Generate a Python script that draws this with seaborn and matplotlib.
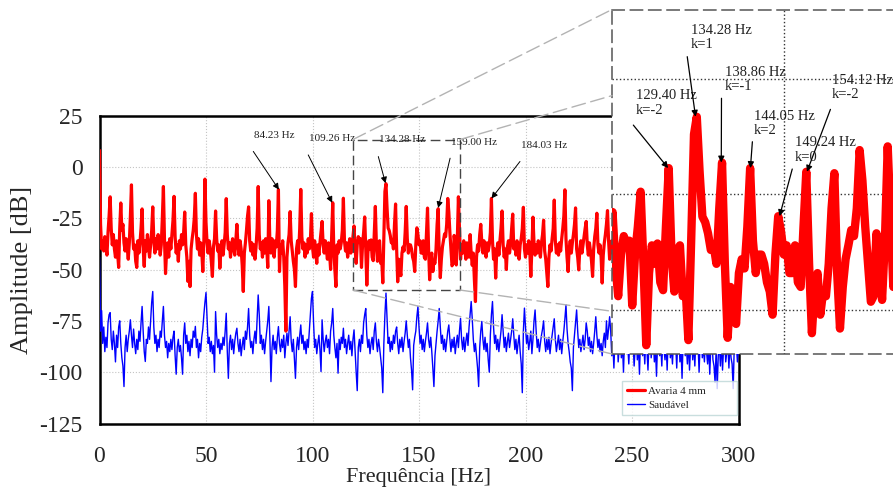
import numpy as np
import pandas as pd
import matplotlib
matplotlib.use("Agg")
import matplotlib.pyplot as plt
import seaborn as sns
from matplotlib.patches import Rectangle, ConnectionPatch

# ---------------- data (0.5 Hz grid) ----------------
freq_step = 0.5
freq_max = 300.0

red_db = [
    8, -28, -40, -36, -41, -34, -38, -43, -32, -24,
    -14.6, -30, -38, -33, -40, -44, -36, -42, -49, -30,
    -17.6, -31, -28, -37, -41, -35, -39, -45, -37, -24,
    -8.8, -32, -40, -38, -46, -49, -36, -42, -37, -30,
    -20.5, -40, -48.5, -36, -41, -33, -39, -44, -38, -31,
    -19.5, -36, -42, -35, -40, -33, -37, -43, -38, -25,
    -9.6, -35, -52, -41, -37, -44, -35, -40, -33, -26,
    -14.4, -34, -42, -38, -46, -36, -40, -33, -38, -32,
    -22, -38, -44, -55.8, -46, -58.3, -40, -35, -31, -25,
    -12.9, -33, -40, -35, -43, -37, -41, -51, -36, -6,
    -27, -37, -42, -36, -40, -46, -53.4, -39, -35, -21.5,
    -35, -41, -38, -49.4, -40, -36, -43, -38, -32, -15.5,
    -33, -40, -37, -44, -38, -35, -40, -43, -36, -28,
    -38, -43, -36, -40, -48, -60.7, -42, -37, -31, -24,
    -19.5, -36, -41, -37, -43, -38, -45, -39, -30, -9.6,
    -33, -40, -37, -44, -36, -42, -35, -39, -49, -16.5,
    -37, -42, -35, -40, -44, -36, -39, -31, -11.1, -51,
    -38, -42, -36, -44, -58, -80, -44, -37, -33, -21.8,
    -36, -41, -46, -50, -58.3, -40, -36, -42, -30, -11,
    -34, -40, -37, -44, -38, -42, -35, -40, -36, -22.8,
    -39, -44, -36, -41, -47, -38, -43, -37, -32, -26.6,
    -38, -42, -36, -40, -45, -37, -42, -50, -33, -17.5,
    -40, -50, -58.3, -38, -42, -36, -40, -37, -31, -15.3,
    -36, -41, -37, -44, -39, -35, -42, -38, -34, -28.8,
    -40, -47, -38, -34, -36, -35, -49, -38, -32, -24.4,
    -40, -57.6, -42, -36, -40, -35.6, -44, -45.7, -32, -19.3,
    -38, -46, -37, -36, -47, -45, -56.5, -35, -12, -8.2,
    -20, -29.8, -31, -33.4, -37, -36, -40, -28, -18.1, -40,
    -56, -45, -50, -53, -42, -39, -41, -32, -19.3, -35,
    -42, -38, -38, -40, -44, -46, -51, -38, -29.7, -33,
    -38, -36, -42, -42, -36, -44, -45, -32, -20.1, -40,
    -55, -45, -42, -51, -46, -47, -40, -28, -20.4, -42,
    -54, -45, -39, -36, -32.7, -34, -28, -15.4, -22, -32,
    -40, -48.2, -47, -33.4, -38, -47.8, -35, -14.6, -30, -45,
    -38, -42, -36, -40, -45, -37, -41, -44, -33, -42,
    -48, -42, -55, -65.6, -44, -38, -41, -33, -28, -37,
    -42, -36, -40, -44, -37, -41, -38, -32, -15.4, -36,
    -45, -40, -54.2, -41, -37, -43, -36, -30, -21.5, -38,
    -44, -40, -50, -39, -36, -42, -38, -30, -23, -40,
    -37, -43, -36, -41, -45, -38, -35, -30, -19.7, -40,
    -44, -38, -42, -36, -41, -53.4, -40, -24.5, -37, -43,
    -38, -42, -36, -40, -44, -37, -33, -26, -41, -45,
    -52, -58.3, -44, -38, -41, -35, -30, -16.2, -36, -42,
    -38, -43, -37, -41, -35, -30, -24, -11.2, -35, -44,
    -51, -40, -36, -42, -37, -33, -28, -20, -40, -44,
    -50.2, -40, -36, -42, -38, -34, -30, -26.6, -38, -43,
    -37, -41, -46, -53.4, -40, -34, -30, -22.6, -38, -42,
    -38, -44, -56.6, -43, -37, -33, -28, -21.3, -36, -45,
    -40, -36, -42, -38, -44, -37, -32, -18, -38, -43,
    -39, -45, -36, -41, -37, -33, -24, -40, -47, -38,
    -42, -36, -40, -30, -12, -38, -45, -41, -36, -43,
    -37, -42, -48, -35, -30, -20, -39, -44, -38, -41,
    -36, -43, -38, -30, -15, -37, -46, -40, -36, -42,
    -38, -44, -37, -32, -41, -25, -40, -52, -39, -35,
    -42, -37, -33, -24, -10, -36, -45, -40, -37, -43,
    -38, -44, -36, -32, -22, -40, -49, -38, -42, -36,
    -41, -37, -34, -28, -17, -39, -46, -40, -36, -43,
    -38, -42, -36, -33, -26, -41, -50, -39, -35, -42,
    -37, -44, -35, -28, -14, -38, -47, -41, -36, -42,
    -38, -43, -36, -30, -22, -40, -45, -38, -41, -37,
    -40,
]

blue_db = [
    -44, -80, -70, -86, -78, -90, -83, -88, -76, -72,
    -71, -84, -89, -80, -86, -95, -82, -88, -78, -75,
    -86, -93, -97, -107, -88, -82, -90, -84, -80, -74.5,
    -82, -88, -79, -86, -91, -84, -89, -80, -85, -76,
    -68, -80, -90, -94.8, -84, -86, -78, -84, -75, -66,
    -60.7, -78, -86, -82, -90, -84, -88, -80, -83, -75,
    -68, -82, -88, -85, -93, -86, -90, -84, -89, -83,
    -80, -92, -101, -88, -84, -90, -87, -93, -101, -82,
    -76, -86, -82, -90, -85, -92, -84, -88, -80, -83,
    -77.7, -88, -84, -93, -86, -90, -83, -79, -72, -66,
    -61.2, -74, -86, -83, -90, -85, -91, -87, -100, -70.5,
    -82, -88, -84, -91, -86, -89, -83, -87, -80, -71.3,
    -90, -103, -86, -82, -89, -84, -91, -85, -81, -78.6,
    -86, -90, -84, -92, -87, -83, -89, -80, -84, -78,
    -69, -82, -88, -85, -91, -84, -80, -86, -74, -62.4,
    -72, -86, -82, -89, -84, -91, -85, -80, -75, -68,
    -84, -104.6, -88, -82, -89, -85, -91, -83, -77.8, -86,
    -90, -84, -88, -82, -93, -86, -81, -87, -80, -73,
    -85, -90, -84, -94, -103, -88, -83, -89, -82, -77,
    -86, -82, -89, -85, -91, -84, -88, -80, -72, -64,
    -60.7, -76, -88, -84, -91, -86, -82, -89, -99.7, -74.5,
    -84, -90, -85, -82, -88, -84, -91, -80, -76, -69,
    -82, -88, -93, -86, -100.5, -84, -89, -83, -86, -78.6,
    -88, -84, -91, -86, -82, -89, -85, -92, -84, -79.4,
    -90, -100, -109, -88, -84, -90, -82, -86, -76, -72,
    -69, -82, -88, -84, -91, -86, -83, -89, -80, -76,
    -85, -90, -84, -88, -93, -98, -110, -86, -72, -61.5,
    -74, -86, -83, -90, -85, -89, -82, -86, -80, -78,
    -86, -91, -84, -88, -83, -90, -85, -81, -75, -82,
    -88, -84, -93, -99, -108.6, -87, -83, -80, -73, -68,
    -78, -86, -82, -89, -84, -90, -85, -81, -76, -84,
    -88, -83, -90, -98, -107, -92, -86, -80, -75, -69,
    -78, -86, -82, -89, -84, -90, -85, -80, -77, -84,
    -90, -84, -88, -83, -91, -86, -82, -88, -80, -73.8,
    -84, -89, -83, -90, -85, -81, -87, -78, -72, -65.6,
    -74, -84, -90, -86, -92, -98, -107, -88, -80, -75.3,
    -84, -89, -83, -90, -86, -94, -100, -82, -72, -65.6,
    -78, -86, -82, -89, -84, -90, -85, -80, -72, -80,
    -88, -83, -90, -85, -81, -88, -84, -80, -74, -82,
    -89, -84, -91, -86, -82, -90, -96, -110, -80, -68.8,
    -78, -86, -82, -89, -85, -80, -91, -84, -75, -69.7,
    -80, -88, -84, -90, -86, -82, -79, -75, -85, -90,
    -84, -89, -83, -91, -86, -82, -78, -74, -84, -90,
    -86, -82, -89, -84, -91, -85, -80, -74, -67.2, -79,
    -86, -90, -95, -98, -109, -88, -82, -76, -69.7, -80,
    -88, -84, -90, -86, -82, -89, -84, -76, -80, -87,
    -83, -90, -85, -91, -86, -80, -73, -82, -88, -84,
    -90, -86, -92, -85, -81, -88, -75, -84, -79, -73,
    -80, -92, -86, -98, -84, -90, -78, -95, -88, -82,
    -93, -86, -100, -84, -79, -91, -87, -96, -83, -76,
    -90, -85, -97, -88, -82, -94, -86, -101, -84, -78,
    -92, -86, -96, -83, -89, -99, -85, -80, -93, -87,
    -84, -95, -88, -102, -86, -80, -92, -87, -97, -82,
    -89, -94, -85, -99, -83, -78, -93, -88, -96, -84,
    -90, -86, -98, -84, -80, -95, -88, -103, -85, -79,
    -92, -87, -96, -84, -99, -88, -82, -94, -86, -97,
    -83, -90, -86, -100, -85, -79, -93, -88, -95, -84,
    -90, -96, -86, -101, -88, -82, -94, -97, -105, -89,
    -108, -92, -86, -97, -84, -99, -88, -83, -95, -90,
    -86, -98, -85, -93, -96, -108, -88, -91, -87, -95,
    -88,
]

series_names = ["Avaria 4 mm", "Saudável"]
x_ticks = [0, 50, 100, 150, 200, 250, 300]
y_ticks = [25, 0, -25, -50, -75, -100, -125]

main_labels = ["84.23 Hz", "109.26 Hz", "134.28 Hz", "159.00 Hz", "184.03 Hz"]
main_peak_f = [84.23, 109.26, 134.28, 159.00, 184.03]
main_peak_db = [-11.1, -17.5, -8.0, -20.0, -15.4]

inset_labels = ["129.40 Hz\nk=-2", "134.28 Hz\nk=1", "138.86 Hz\nk=-1",
                "144.05 Hz\nk=2", "149.24 Hz\nk=0", "154.12 Hz\nk=-2"]
inset_peak_f = [129.40, 134.28, 138.86, 144.05, 149.24, 154.12]
inset_peak_db = [-19.3, -8.2, -18.1, -19.3, -29.7, -20.1]

freq = np.arange(0, freq_max + freq_step / 2, freq_step)
df = pd.DataFrame({"freq": freq, "red": red_db, "blue": blue_db})

# ---------------- style ----------------
sns.set_style("white")
plt.rcParams["font.family"] = ["Liberation Serif", "DejaVu Serif"]
plt.rcParams["axes.unicode_minus"] = False

fig = plt.figure(figsize=(8.93, 4.99), dpi=100)
ax = fig.add_axes([99.5 / 893, 75.5 / 499, 639 / 893, 308 / 499])

sns.lineplot(data=df, x="freq", y="blue", ax=ax, color="#0000ff", lw=1.0,
             label=series_names[1], estimator=None, sort=False, zorder=3)
sns.lineplot(data=df, x="freq", y="red", ax=ax, color="#ff0000", lw=2.3,
             label=series_names[0], estimator=None, sort=False, zorder=4)

ax.set_xlim(0, 300)
ax.set_ylim(-125, 25)
ax.set_xticks(x_ticks)
ax.set_yticks(y_ticks)
ax.tick_params(axis="both", length=0, labelsize=17)
ax.tick_params(axis="y", pad=12)
ax.tick_params(axis="x", pad=16)
ax.grid(True, ls=":", color="#c4c4c4", lw=0.8)
ax.set_axisbelow(True)
for s in ax.spines.values():
    s.set_color("black")
    s.set_linewidth(1.8)
ax.set_xlabel("Frequência [Hz]", fontsize=16)
ax.set_ylabel("Amplitude [dB]", fontsize=19)
ax.xaxis.set_label_coords(0.5, -0.146)
ax.yaxis.set_label_coords(-0.104, 0.5)

h, l = ax.get_legend_handles_labels()
order = [l.index(series_names[0]), l.index(series_names[1])]
leg = ax.legend([h[i] for i in order], [l[i] for i in order], loc="lower left",
                bbox_to_anchor=(0.8177, 0.0292, 0.18, 0.117), mode="expand",
                borderaxespad=0, fontsize=8,
                frameon=True, fancybox=False, edgecolor="#bcd6d6",
                handlelength=1.6, handletextpad=0.3, labelspacing=0.35,
                borderpad=0.45)
leg.get_frame().set_linewidth(1.0)
leg.set_zorder(10)

# zoom rectangle in main axes
rect_x0, rect_x1, rect_y0, rect_y1 = 119.0, 169.2, -60.0, 13.3
ax.add_patch(Rectangle((rect_x0, rect_y0), rect_x1 - rect_x0, rect_y1 - rect_y0,
                       fill=False, ec="#454545", lw=1.0, ls=(0, (7, 3.5)), zorder=6))

# main annotations
main_text_xy = [(81.9, 15.1), (109.4, 13.6), (142.2, 13.2), (175.8, 11.7), (208.7, 10.2)]
main_tail_xy = [(72.2, 7.5), (98.0, 5.8), (130.9, 5.0), (164.6, 4.2), (197.4, 2.6)]
for lab, pf, pdb, txy, tail in zip(main_labels, main_peak_f, main_peak_db, main_text_xy, main_tail_xy):
    ax.text(txy[0], txy[1], lab, fontsize=8, ha="center", va="center", color="#222222", zorder=7)
    ax.annotate("", xy=(pf, pdb), xytext=tail,
                arrowprops=dict(arrowstyle="-|>", color="black", lw=0.7,
                                mutation_scale=9, shrinkA=0, shrinkB=0), zorder=7)

# ---------------- inset ----------------
axins = fig.add_axes([612 / 893, 145 / 499, 283 / 893, 344.5 / 499])
axins.set_facecolor("white")
sns.lineplot(data=df, x="freq", y="blue", ax=axins, color="#0000ff", lw=1.0,
             legend=False, estimator=None, sort=False)
sns.lineplot(data=df, x="freq", y="red", ax=axins, color="#ff0000", lw=6,
             legend=False, estimator=None, sort=False)
axins.set_xlim(119.4, 169.8)
axins.set_ylim(-59.5, 15)
axins.set_xticks([150])
axins.set_yticks([0, -25, -50])
axins.tick_params(axis="both", direction="in", length=3, labelbottom=False,
                  labelleft=False, color="#555555")
axins.set_xlabel("")
axins.set_ylabel("")
axins.grid(True, ls=":", color="#333333", lw=1.0)
axins.set_axisbelow(True)
for s in axins.spines.values():
    s.set_color("#555555")
    s.set_linewidth(1.1)
    s.set_linestyle((0, (8, 4)))

inset_text_xy = [(123.6, -5.2), (133.4, 8.9), (139.5, -0.1), (144.7, -9.7), (152.0, -15.4), (158.5, -1.9)]
inset_tail_xy = [(123.2, -10.0), (132.8, 4.8), (138.9, -4.2), (144.4, -13.6), (151.5, -19.5), (158.3, -6.6)]
for lab, pf, pdb, txy, tail in zip(inset_labels, inset_peak_f, inset_peak_db, inset_text_xy, inset_tail_xy):
    axins.text(txy[0], txy[1], lab, fontsize=10.5, ha="left", va="center",
               linespacing=1.15, color="#222222", zorder=7)
    axins.annotate("", xy=(pf, pdb), xytext=tail,
                   arrowprops=dict(arrowstyle="-|>", color="black", lw=0.9,
                                   mutation_scale=9, shrinkA=0, shrinkB=0), zorder=7)

# connector lines from zoom rectangle to inset
conn_style = dict(color="#b3b3b3", lw=1.0, ls=(0, (10, 4)))
for xyA, xyB in [((rect_x0, rect_y1), (0, 1)), ((rect_x1, rect_y1), (0, 0.75)),
                 ((rect_x0, rect_y0), (0, 0)), ((rect_x1, rect_y0), (0, 0.124))]:
    cp = ConnectionPatch(xyA=xyA, coordsA=ax.transData, xyB=xyB, coordsB=axins.transAxes,
                         **conn_style)
    fig.add_artist(cp)

fig.savefig("out.png", dpi=100)
